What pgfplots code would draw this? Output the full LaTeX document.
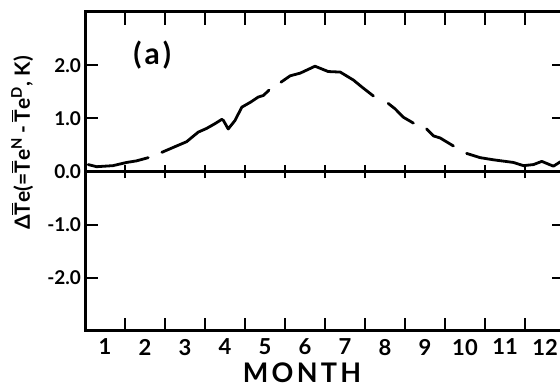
\documentclass[border=0pt]{standalone}
\usepackage{pgfplots}
\pgfplotsset{compat=1.18}
\usepackage{fontspec}
\setmainfont{Lato}
\begin{document}
\begin{tikzpicture}
\begin{axis}[
  scale only axis, width=240pt, height=159.5pt,
  xmin=0, xmax=12, ymin=-3, ymax=3,
  axis line style={line width=1.5pt},
  xtick={1,...,11}, xticklabels={},
  extra x ticks={0.5,1.5,...,11.5},
  extra x tick labels={1,2,3,4,5,6,7,8,9,10,11,12},
  extra x tick style={major tick length=0pt},
  ytick={-2,-1,0,1,2},
  yticklabels={-2.0,-1.0,0.0,1.0,2.0},
  tick align=inside,
  major tick length=6.5pt,
  every tick/.style={line width=1.1pt, black},
  tick label style={font=\bfseries\fontsize{9.5}{10}\selectfont},
  xticklabel style={font=\bfseries\fontsize{11}{11}\selectfont, yshift=-0.5pt},
  yticklabel style={xshift=1.5pt},
  unbounded coords=jump,
  clip=false,
]
\coordinate (SW) at (rel axis cs:0,0);
\coordinate (NE) at (rel axis cs:1,1);
\draw[line width=1.3pt] (axis cs:0,0) -- (axis cs:12,0);
\pgfplotsinvokeforeach{1,...,11}{\draw[line width=1.1pt] (axis cs:#1,-0.13) -- (axis cs:#1,0.13);}
\addplot[black, line width=1.4pt, line join=round, line cap=round] coordinates {
(0.08,0.13) (0.29,0.09) (0.7,0.11) (1.04,0.17) (1.29,0.2) (1.58,0.26)
(1.75,nan)
(1.92,0.36) (2.29,0.48) (2.54,0.56) (2.83,0.74) (3.04,0.81) (3.25,0.9) (3.42,0.98) (3.46,0.96)
(3.58,0.8) (3.75,0.96) (3.92,1.21) (4.13,1.3) (4.33,1.4) (4.46,1.43) (4.6,1.53)
(4.75,nan)
(4.9,1.68) (5.13,1.8) (5.38,1.85) (5.75,1.98) (6.08,1.88) (6.38,1.87) (6.71,1.72) (6.92,1.59) (7.21,1.42)
(7.4,nan)
(7.58,1.28) (7.75,1.18) (7.96,1.02) (8.21,0.91)
(8.4,nan)
(8.54,0.8) (8.71,0.67) (8.88,0.63) (9.21,0.48)
(9.4,nan)
(9.54,0.34) (9.88,0.26) (10.21,0.22) (10.71,0.17) (10.96,0.11) (11.21,0.13) (11.42,0.19) (11.71,0.1) (11.88,0.18) (12.0,0.2)
};
\node[font=\bfseries\fontsize{15}{15}\selectfont\addfontfeature{LetterSpace=12}] at (axis cs:1.68,2.19) {(a)};
\end{axis}
\node[rotate=90, font=\bfseries\fontsize{10.5}{11}\selectfont] at ([xshift=-31.5pt, yshift=94pt]SW)
  {Δ$\overline{\hbox{T}}$e(=$\overline{\hbox{T}}$e\textsuperscript{N}\,-\,$\overline{\hbox{T}}$e\textsuperscript{D}, K)};
\node[font=\bfseries\fontsize{13.5}{14}\selectfont\addfontfeature{LetterSpace=12}] at ([xshift=108.5pt, yshift=-21pt]SW) {MONTH};
\pgfresetboundingbox
\path[use as bounding box] ([xshift=-42.5pt,yshift=-28pt]SW) rectangle ([xshift=-2.5pt,yshift=6pt]NE);
\end{tikzpicture}
\end{document}
